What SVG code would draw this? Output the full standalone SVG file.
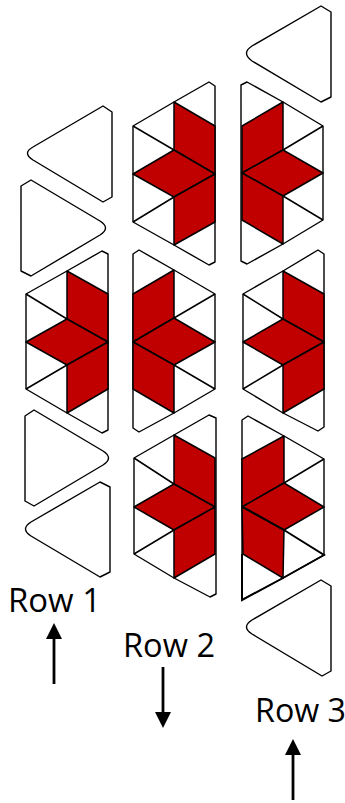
<svg xmlns="http://www.w3.org/2000/svg" width="345" height="803" viewBox="0 0 345 803">
<style>
.o{fill:#fff;stroke:#000;stroke-width:1.4;stroke-linejoin:round}
.r{fill:#c00000;stroke:#000;stroke-width:1.5;stroke-linejoin:round}
.l{fill:none;stroke:#000;stroke-width:1.5}
.k{fill:none;stroke:#000;stroke-width:2}
.t{font-family:"Open Sans","Noto Sans",sans-serif;font-size:32px;fill:#000}
.a{fill:none;stroke:#000;stroke-width:2.8;marker-end:url(#h)}
</style>
<defs><marker id="h" markerUnits="userSpaceOnUse" markerWidth="17" markerHeight="16" refX="1" refY="8" orient="auto"><path d="M0,0L16,8L0,16Z" fill="#000"/></marker></defs>
<rect width="345" height="803" fill="#fff"/>
<g id="tri-col1-a"><path class="o" d="M103,106L112,112L112,197L103,202L33,160Q22,153 33,147Z"/></g>
<g id="tri-col1-b"><path class="o" d="M21,186L31,180L100,221Q111,228 100,235L31,276L21,271Z"/></g>
<g id="tri-col1-c"><path class="o" d="M25,416L34,410L103,451Q114,458 103,465L34,506L25,501Z"/></g>
<g id="tri-col1-d"><path class="o" d="M100,482L110,487L110,572L100,577L31,536Q20,529 31,522Z"/></g>
<g id="tri-col3-a"><path class="o" d="M321,6L331,12L331,97L321,102L252,61Q241,53 252,46Z"/></g>
<g id="tri-col3-b"><path class="o" d="M321,580L331,586L331,671L322,676L252,634Q241,627 252,620Z"/></g>
<g id="hex-col1">
<path class="o" d="M26,294L67,271L102,251L108,254L108,430L102,433L67,413L26,389Z"/>
<path class="r" d="M67,271L108,294L108,342L67,319Z"/>
<path class="r" d="M26,342L67,319L108,342L67,365Z"/>
<path class="r" d="M67,365L108,342L108,389L67,413Z"/>
<path class="l" d="M26,294L67,319M26,389L67,365"/>
</g>
<g id="hex-col2-top">
<path class="o" d="M133,126L174,102L209,82L215,86L215,262L209,265L174,245L133,222Z"/>
<path class="r" d="M174,102L215,126L215,174L174,150Z"/>
<path class="r" d="M133,174L174,150L215,174L174,197Z"/>
<path class="r" d="M174,197L215,174L215,222L174,245Z"/>
<path class="l" d="M133,126L174,150M133,222L174,197"/>
</g>
<g id="hex-col2-mid">
<path class="o" d="M215,294L174,270L139,250L133,254L133,428L139,432L174,413L215,389Z"/>
<path class="r" d="M174,270L133,294L133,342L174,318Z"/>
<path class="r" d="M133,342L174,318L215,342L174,365Z"/>
<path class="r" d="M174,365L133,342L133,389L174,413Z"/>
<path class="l" d="M215,294L174,318M215,389L174,365"/>
</g>
<g id="hex-col2-bottom">
<path class="o" d="M134,458L174,435L209,415L216,418L216,594L210,597L174,578L134,554Z"/>
<path class="r" d="M174,435L215,458L215,507L174,484Z"/>
<path class="r" d="M134,507L174,484L215,507L174,530Z"/>
<path class="r" d="M174,530L215,507L215,554L174,578Z"/>
<path class="l" d="M134,458L174,484M134,554L174,530"/>
</g>
<g id="hex-col3-top">
<path class="o" d="M323,126L283,102L247,82L241,85L241,261L247,264L283,244L323,220Z"/>
<path class="r" d="M283,102L242,126L242,173L283,150Z"/>
<path class="r" d="M242,173L283,150L323,173L283,196Z"/>
<path class="r" d="M283,196L242,173L242,220L283,244Z"/>
<path class="l" d="M323,126L283,150M323,220L283,196"/>
</g>
<g id="hex-col3-mid">
<path class="o" d="M243,294L283,271L318,250L324,254L324,427L318,431L283,413L243,389Z"/>
<path class="r" d="M283,271L324,294L324,342L283,319Z"/>
<path class="r" d="M243,342L283,319L324,342L283,365Z"/>
<path class="r" d="M283,365L324,342L324,389L283,413Z"/>
<path class="l" d="M243,294L283,319M243,389L283,365"/>
</g>
<g id="hex-col3-bottom">
<path class="o" d="M324,459L284,436L248,416L242,420L242,600L283,578L324,555Z"/>
<path class="r" d="M284,436L242,459L242,507L284,483Z"/>
<path class="r" d="M242,507L284,483L324,507L284,530Z"/>
<path class="r" d="M284,530L242,507L243,554L283,578Z"/>
<path class="l" d="M324,459L284,483"/>
<path class="k" d="M243,507L284,530L324,555L283,578L242,600L242,554"/>
</g>
<g id="connectors">
<line class="a" x1="54" y1="684" x2="54" y2="638"/>
<line class="a" x1="163" y1="667" x2="163" y2="713"/>
<line class="a" x1="293" y1="800" x2="293" y2="754"/>
</g>
<g id="labels">
<text class="t" x="8" y="612" textLength="93" lengthAdjust="spacingAndGlyphs">Row 1</text>
<text class="t" x="123" y="657" textLength="92" lengthAdjust="spacingAndGlyphs">Row 2</text>
<text class="t" x="255" y="722" textLength="91" lengthAdjust="spacingAndGlyphs">Row 3</text>
</g>
</svg>
